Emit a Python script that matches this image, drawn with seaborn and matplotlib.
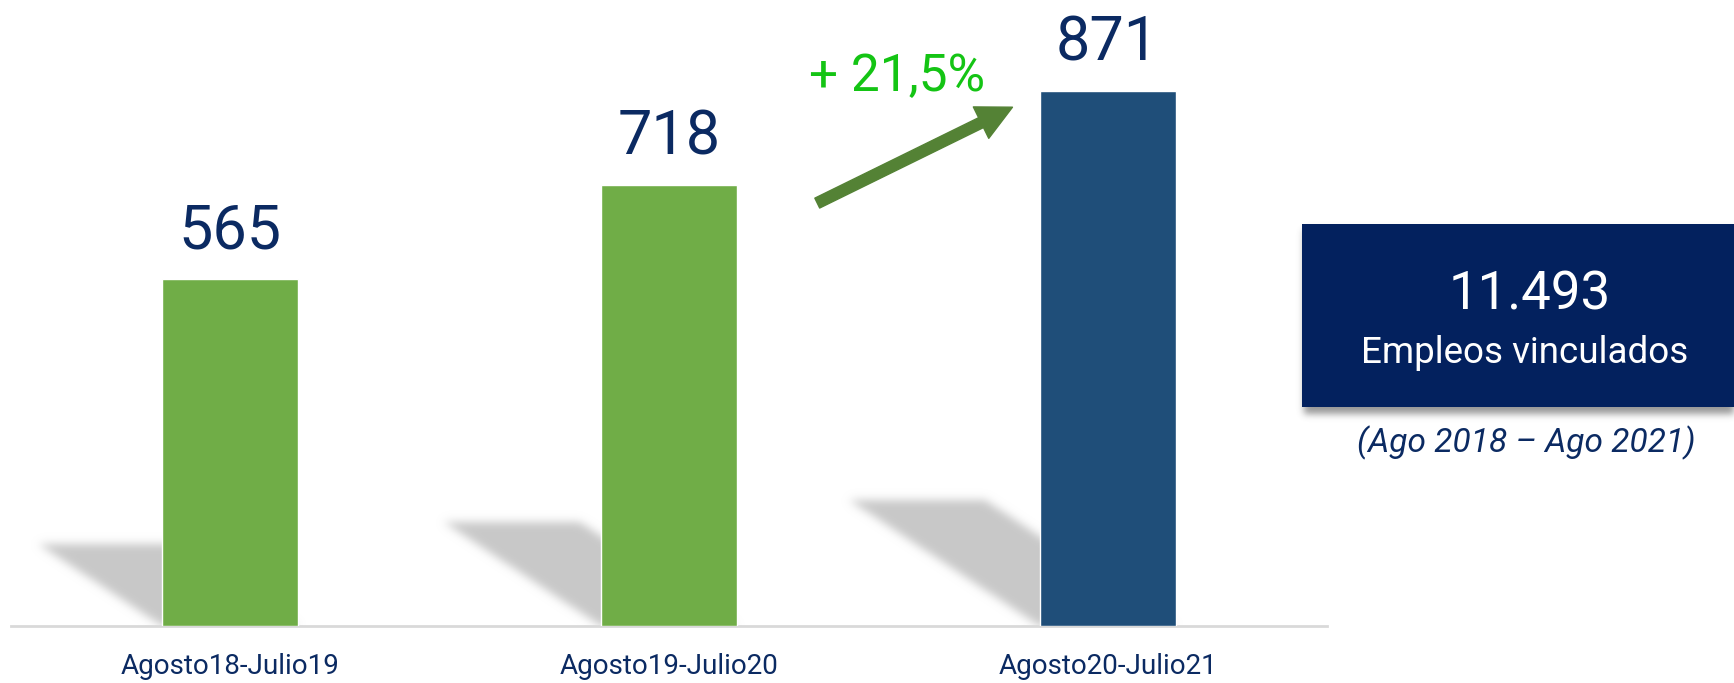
import numpy as np
import pandas as pd
import matplotlib
matplotlib.use("Agg")
import matplotlib.pyplot as plt
import seaborn as sns
from matplotlib.patches import Rectangle, ArrowStyle

# Datos
categorias = ['Agosto18-Julio19', 'Agosto19-Julio20', 'Agosto20-Julio21']
empleos = [565, 718, 871]
colores = ['#70ad47', '#70ad47', '#1f4e79']
variacion = '+ 21,5%'
total = '11.493'
total_txt = 'Empleos vinculados'
periodo = '(Ago 2018 – Ago 2021)'

AZUL = '#0b2a62'
W, H = 1734, 683

sns.set_style('white')
plt.rcParams['font.family'] = ['Roboto', 'DejaVu Sans']

fig = plt.figure(figsize=(W / 100, H / 100), dpi=100)
ax = fig.add_axes([11 / W, 57 / H, 1316 / W, 626 / H])
ymax = 626 / 0.6147

df = pd.DataFrame({'periodo': categorias, 'empleos': empleos})
sns.barplot(data=df, x='periodo', y='empleos', hue='periodo', palette=colores,
            saturation=1, width=0.31, legend=False, ax=ax, zorder=3)

# Sombra proyectada de cada barra (difuminada)
nx, ny = 1316, 626
xs = np.linspace(-0.5, 2.5, nx, endpoint=False) + 1.5 / nx
ys = np.linspace(0, ymax, ny, endpoint=False) + ymax / ny / 2
X, Y = np.meshgrid(xs, ys)
mask = np.zeros_like(X)
for i, v in enumerate(empleos):
    dx = v * 0.000498
    dy = v * 0.235
    t = Y / dy
    xl = i - 0.155 - dx * t
    xr = i + 0.155 - dx * t
    mask[(Y <= dy) & (X >= xl) & (X <= xr)] = 1.0

k = np.exp(-0.5 * (np.arange(-15, 16) / 4.5) ** 2)
k /= k.sum()
mask = np.apply_along_axis(lambda r: np.convolve(r, k, mode='same'), 0, mask)
mask = np.apply_along_axis(lambda r: np.convolve(r, k, mode='same'), 1, mask)
rgba = np.zeros((ny, nx, 4))
rgba[..., :3] = 200 / 255
rgba[..., 3] = np.clip(mask, 0, 1)
ax.imshow(rgba, extent=(-0.5, 2.5, 0, ymax), origin='lower', aspect='auto',
          zorder=1, interpolation='bilinear')

ax.set_xlim(-0.5, 2.5)
ax.set_ylim(0, ymax)

# Etiquetas de valor
for cont in ax.containers:
    etiquetas = ax.bar_label(cont, fontsize=44, color=AZUL, padding=21.6)
    for t in etiquetas:
        t.set_va('baseline')

# Ejes
for s in ['left', 'right', 'top']:
    ax.spines[s].set_visible(False)
ax.spines['bottom'].set_color('#d9d9d9')
ax.spines['bottom'].set_linewidth(2)
ax.set_yticks([])
ax.set_xlabel('')
ax.set_ylabel('')
ax.tick_params(axis='x', length=0, pad=19.5, labelsize=20, labelcolor=AZUL)

# Flecha de crecimiento
ax.annotate('', xy=(1.783, 844), xytext=(1.338, 688),
            arrowprops=dict(arrowstyle=ArrowStyle.Simple(head_length=0.7, head_width=0.7, tail_width=0.22),
                            mutation_scale=36, color='#548235', shrinkA=0, shrinkB=0),
            annotation_clip=False, zorder=5)

# Capa en pixeles para textos y recuadro
ov = fig.add_axes([0, 0, 1, 1])
ov.set_xlim(0, W)
ov.set_ylim(H, 0)
ov.axis('off')

ov.text(897, 91, variacion, color='#14c414', fontsize=37, ha='center', va='baseline')

# Sombra del recuadro
bx0, by0, by1 = 1302, 224, 407
gx = np.arange(1270, W)
gy = np.arange(200, 450)
GX, GY = np.meshgrid(gx, gy)
m2 = ((GX >= bx0 + 2) & (GY >= by0 + 6) & (GY <= by1 + 6)).astype(float)
k2 = np.exp(-0.5 * (np.arange(-12, 13) / 3.5) ** 2)
k2 /= k2.sum()
m2 = np.apply_along_axis(lambda r: np.convolve(r, k2, mode='same'), 0, m2)
m2 = np.apply_along_axis(lambda r: np.convolve(r, k2, mode='same'), 1, m2)
sh = np.zeros((len(gy), len(gx), 4))
sh[..., :3] = 0.33
sh[..., 3] = np.clip(m2, 0, 1) * 0.6
ov.imshow(sh, extent=(1270, W, 450, 200), aspect='auto', zorder=1)
ov.add_patch(Rectangle((bx0, by0), W - bx0 + 5, by1 - by0, facecolor='#03215e',
                       edgecolor='none', zorder=2))
ov.set_xlim(0, W)
ov.set_ylim(H, 0)

ov.text(1530, 310, total, color='white', fontsize=38, ha='center', va='baseline', zorder=3)
ov.text(1525, 363, total_txt, color='white', fontsize=26.5, ha='center', va='baseline', zorder=3)
ov.text(1526, 452, periodo, color=AZUL, fontsize=24, style='italic', ha='center',
        va='baseline', zorder=3)

fig.savefig('out.png', dpi=100)
